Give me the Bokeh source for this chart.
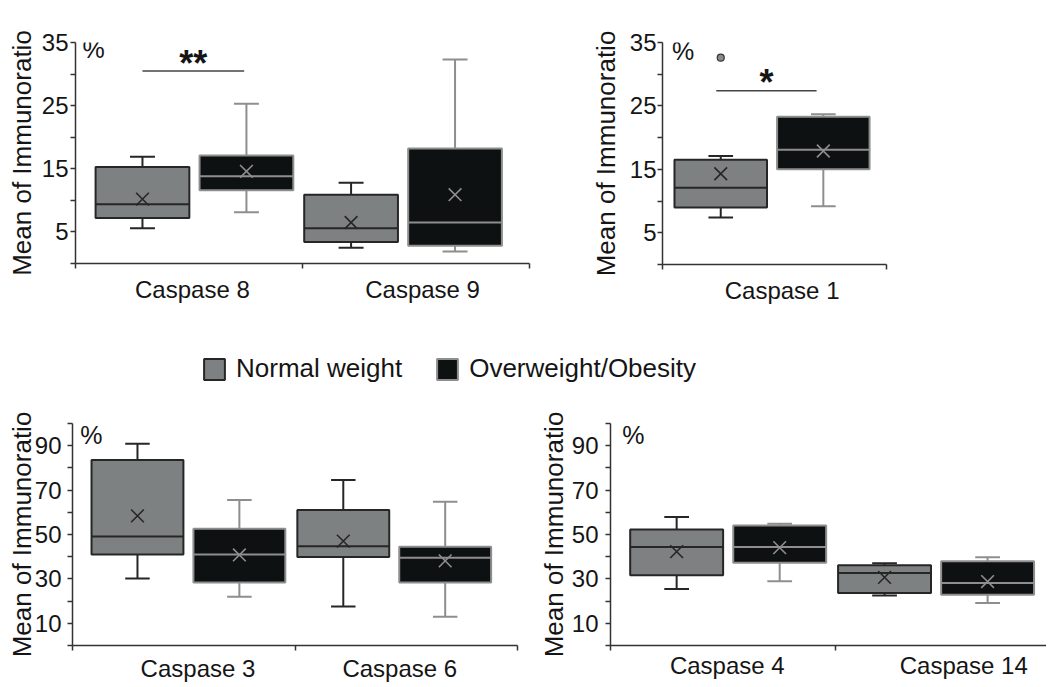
from bokeh.plotting import figure
from bokeh.layouts import column, row
from bokeh.models import Range1d, FixedTicker, Label, Legend, LegendItem, ColumnDataSource
from bokeh.embed import file_html
from bokeh.resources import INLINE

# ---------------- data ----------------
series_names = ["Normal weight", "Overweight/Obesity"]
y_title = "Mean of Immunoratio"

a_categories = ["Caspase 8", "Caspase 9"]
a_normal_low = [5.6, 2.5]
a_normal_q1 = [7.2, 3.4]
a_normal_med = [9.4, 5.6]
a_normal_q3 = [15.3, 10.9]
a_normal_high = [16.9, 12.8]
a_normal_mean = [10.2, 6.5]
a_over_low = [8.1, 1.9]
a_over_q1 = [11.6, 2.8]
a_over_med = [13.8, 6.5]
a_over_q3 = [17.1, 18.2]
a_over_high = [25.3, 32.3]
a_over_mean = [14.6, 10.9]
a_sig = "**"

b_categories = ["Caspase 1"]
b_normal_low = [7.4]
b_normal_q1 = [9.0]
b_normal_med = [12.1]
b_normal_q3 = [16.5]
b_normal_high = [17.1]
b_normal_mean = [14.3]
b_normal_outlier = [32.6]
b_over_low = [9.2]
b_over_q1 = [15.0]
b_over_med = [18.1]
b_over_q3 = [23.3]
b_over_high = [23.7]
b_over_mean = [17.9]
b_sig = "*"

c_categories = ["Caspase 3", "Caspase 6"]
c_normal_low = [30.2, 17.6]
c_normal_q1 = [41.0, 39.9]
c_normal_med = [49.1, 44.7]
c_normal_q3 = [83.6, 61.0]
c_normal_high = [90.9, 74.5]
c_normal_mean = [58.4, 47.0]
c_over_low = [22.0, 13.0]
c_over_q1 = [28.4, 28.4]
c_over_med = [41.0, 39.5]
c_over_q3 = [52.6, 44.5]
c_over_high = [65.5, 64.8]
c_over_mean = [40.8, 38.1]

d_categories = ["Caspase 4", "Caspase 14"]
d_normal_low = [25.5, 22.5]
d_normal_q1 = [31.6, 23.6]
d_normal_med = [44.4, 32.7]
d_normal_q3 = [52.3, 36.2]
d_normal_high = [57.9, 37.1]
d_normal_mean = [42.3, 30.7]
d_over_low = [28.9, 19.2]
d_over_q1 = [37.3, 22.9]
d_over_med = [44.4, 28.2]
d_over_q3 = [54.1, 38.0]
d_over_high = [54.8, 39.8]
d_over_mean = [44.1, 28.8]

small_ticks = [5, 15, 25, 35]
small_minor = [0, 10, 20, 30]
big_ticks = [10, 30, 50, 70, 90]
big_minor = [0, 20, 40, 60, 80, 100]

# ---------------- style ----------------
FONT = "Liberation Sans"
GREY = "#7e8181"
BLACK = "#0e1112"
DARK = "#262626"
LIGHT = "#8e8e8e"
AXIS = "#333333"
TXT = "#151515"
BOX_W = 0.413
CAP_W = 0.11
SHIFT = 0.229


def base_fig(frame_w, frame_h, xmax, ymax, ticks, minor, borders, lab_pos, cats,
             title_standoff, tick_standoff, xcat_standoff):
    left, right, top, bottom = borders
    p = figure(frame_width=frame_w, frame_height=frame_h,
               x_range=Range1d(0, xmax), y_range=Range1d(0, ymax),
               output_backend="svg", toolbar_location=None,
               min_border_left=left, min_border_right=right,
               min_border_top=top, min_border_bottom=bottom)
    p.outline_line_color = None
    p.grid.visible = False
    p.background_fill_color = "white"
    p.border_fill_color = "white"
    # y axis
    ya = p.yaxis[0]
    ya.ticker = FixedTicker(ticks=ticks, minor_ticks=minor)
    ya.axis_label = y_title
    ya.axis_label_text_font = FONT
    ya.axis_label_text_font_size = "26px"
    ya.axis_label_text_font_style = "normal"
    ya.axis_label_text_color = TXT
    ya.axis_label_standoff = title_standoff
    ya.major_label_text_font = FONT
    ya.major_label_text_font_size = "24px"
    ya.major_label_text_color = TXT
    ya.major_label_standoff = tick_standoff
    # x axis: labels at category label positions, tick marks at category borders
    xa = p.xaxis[0]
    borders_x = [float(i) for i in range(len(cats) + 1)]
    xa.ticker = FixedTicker(ticks=lab_pos, minor_ticks=borders_x)
    xa.major_label_overrides = {pos: c for pos, c in zip(lab_pos, cats)}
    xa.major_label_text_font = FONT
    xa.major_label_text_font_size = "24px"
    xa.major_label_text_color = TXT
    xa.major_label_standoff = xcat_standoff
    xa.major_tick_line_color = None
    xa.major_tick_out = 0
    xa.major_tick_in = 0
    for ax in (xa, ya):
        ax.axis_line_color = AXIS
        ax.axis_line_width = 1.5
        ax.minor_tick_line_color = AXIS
        ax.minor_tick_line_width = 1.5
        ax.minor_tick_out = 5
        ax.minor_tick_in = 0
    ya.major_tick_line_color = AXIS
    ya.major_tick_line_width = 1.5
    ya.major_tick_out = 5
    ya.major_tick_in = 0
    return p


def draw_series(p, xs, low, q1, med, q3, high, mean, fill, edge, inner):
    src = ColumnDataSource(dict(
        x=xs, low=low, q1=q1, med=med, q3=q3, high=high, mean=mean,
        bl=[x - BOX_W / 2 for x in xs], br=[x + BOX_W / 2 for x in xs],
        cl=[x - CAP_W / 2 for x in xs], cr=[x + CAP_W / 2 for x in xs]))
    p.segment(x0="x", y0="q3", x1="x", y1="high", source=src, line_color=inner, line_width=2)
    p.segment(x0="x", y0="q1", x1="x", y1="low", source=src, line_color=inner, line_width=2)
    p.segment(x0="cl", y0="high", x1="cr", y1="high", source=src, line_color=inner, line_width=2)
    p.segment(x0="cl", y0="low", x1="cr", y1="low", source=src, line_color=inner, line_width=2)
    p.vbar(x="x", width=BOX_W, top="q3", bottom="q1", source=src,
           fill_color=fill, line_color=edge, line_width=2)
    p.segment(x0="bl", y0="med", x1="br", y1="med", source=src, line_color=inner, line_width=2)
    p.scatter(x="x", y="mean", source=src, marker="x", size=18,
              line_color=inner, line_width=1.6)


def add_boxes(p, groups, normal, over):
    xn = [g - SHIFT for g in groups]
    xo = [g + SHIFT for g in groups]
    draw_series(p, xn, *normal, GREY, DARK, DARK)
    draw_series(p, xo, *over, BLACK, LIGHT, LIGHT)
    return xn, xo


def add_percent(p, x, y):
    p.add_layout(Label(x=x, y=y, text="%", text_font=FONT, text_font_size="25px",
                       text_color=TXT, text_align="left", text_baseline="alphabetic"))


def add_sig(p, x0, x1, y_line, y_text, text):
    p.segment(x0=[x0], y0=[y_line], x1=[x1], y1=[y_line], line_color="#444444", line_width=1.5)
    p.add_layout(Label(x=(x0 + x1) / 2, y=y_text, text=text, text_font=FONT,
                       text_font_size="36px", text_font_style="bold", text_color=TXT,
                       text_align="center", text_baseline="alphabetic"))


# ---------------- panel A ----------------
pa = base_fig(454, 221, 2, 35, small_ticks, small_minor, (75, 55, 42, 67),
              [0.515, 1.529], a_categories, 2, 2, 7)
xn, xo = add_boxes(pa, [0.524, 1.443],
                   (a_normal_low, a_normal_q1, a_normal_med, a_normal_q3, a_normal_high, a_normal_mean),
                   (a_over_low, a_over_q1, a_over_med, a_over_q3, a_over_high, a_over_mean))
add_sig(pa, xn[0], xo[0] - 0.01, 30.5, 31.7, a_sig)
add_percent(pa, 0.031, 34.0)

# ---------------- panel B ----------------
pb = base_fig(224, 222, 1, 35, small_ticks, small_minor, (78, 10, 40, 68),
              [0.534], b_categories, 6, 1, 7)
xn, xo = add_boxes(pb, [0.489],
                   (b_normal_low, b_normal_q1, b_normal_med, b_normal_q3, b_normal_high, b_normal_mean),
                   (b_over_low, b_over_q1, b_over_med, b_over_q3, b_over_high, b_over_mean))
pb.scatter(x=xn, y=b_normal_outlier, marker="circle", size=7, fill_color="#8a8a8a",
           line_color="#333333", line_width=1.2)
add_sig(pb, xn[0] - 0.02, xo[0] - 0.03, 27.4, 28.7, b_sig)
add_percent(pb, 0.042, 33.7)

# ---------------- panel C ----------------
pc = base_fig(445, 222, 2, 100, big_ticks, big_minor, (72, 15, 22, 44),
              [0.564, 1.471], c_categories, -5, 6, 4)
add_boxes(pc, [0.521, 1.446],
          (c_normal_low, c_normal_q1, c_normal_med, c_normal_q3, c_normal_high, c_normal_mean),
          (c_over_low, c_over_q1, c_over_med, c_over_q3, c_over_high, c_over_mean))
add_percent(pc, 0.035, 94.6)

# ---------------- panel D ----------------
pd_ = base_fig(436, 222, 436 / 225, 100, big_ticks, big_minor, (78, 0, 25, 41),
               [0.519, 1.570], d_categories, 0, 7, 1)
add_boxes(pd_, [0.523, 1.447],
          (d_normal_low, d_normal_q1, d_normal_med, d_normal_q3, d_normal_high, d_normal_mean),
          (d_over_low, d_over_q1, d_over_med, d_over_q3, d_over_high, d_over_mean))
add_percent(pd_, 0.052, 94.7)

# ---------------- legend strip ----------------
lg = figure(width=1040, height=68, output_backend="svg", toolbar_location=None,
            x_range=Range1d(0, 1), y_range=Range1d(0, 1),
            x_axis_location=None, y_axis_location=None, min_border=0)
lg.outline_line_color = None
lg.grid.visible = False
r_n = lg.quad(left=[5], right=[6], top=[5], bottom=[4], fill_color=GREY, line_color=DARK, line_width=2)
r_o = lg.quad(left=[5], right=[6], top=[5], bottom=[4], fill_color=BLACK, line_color=LIGHT, line_width=2)
legend = Legend(items=[LegendItem(label=series_names[0], renderers=[r_n]),
                       LegendItem(label=series_names[1], renderers=[r_o])],
                orientation="horizontal", location=(201, 14),
                glyph_width=26, glyph_height=26, label_standoff=9, spacing=32,
                padding=0, margin=0, border_line_color=None, background_fill_alpha=0,
                label_text_font=FONT, label_text_font_size="26px", label_text_color=TXT,
                label_height=26)
lg.add_layout(legend)

layout = column(row(pa, pb), lg, row(pc, pd_))
open("out.html", "w").write(file_html(layout, INLINE))
